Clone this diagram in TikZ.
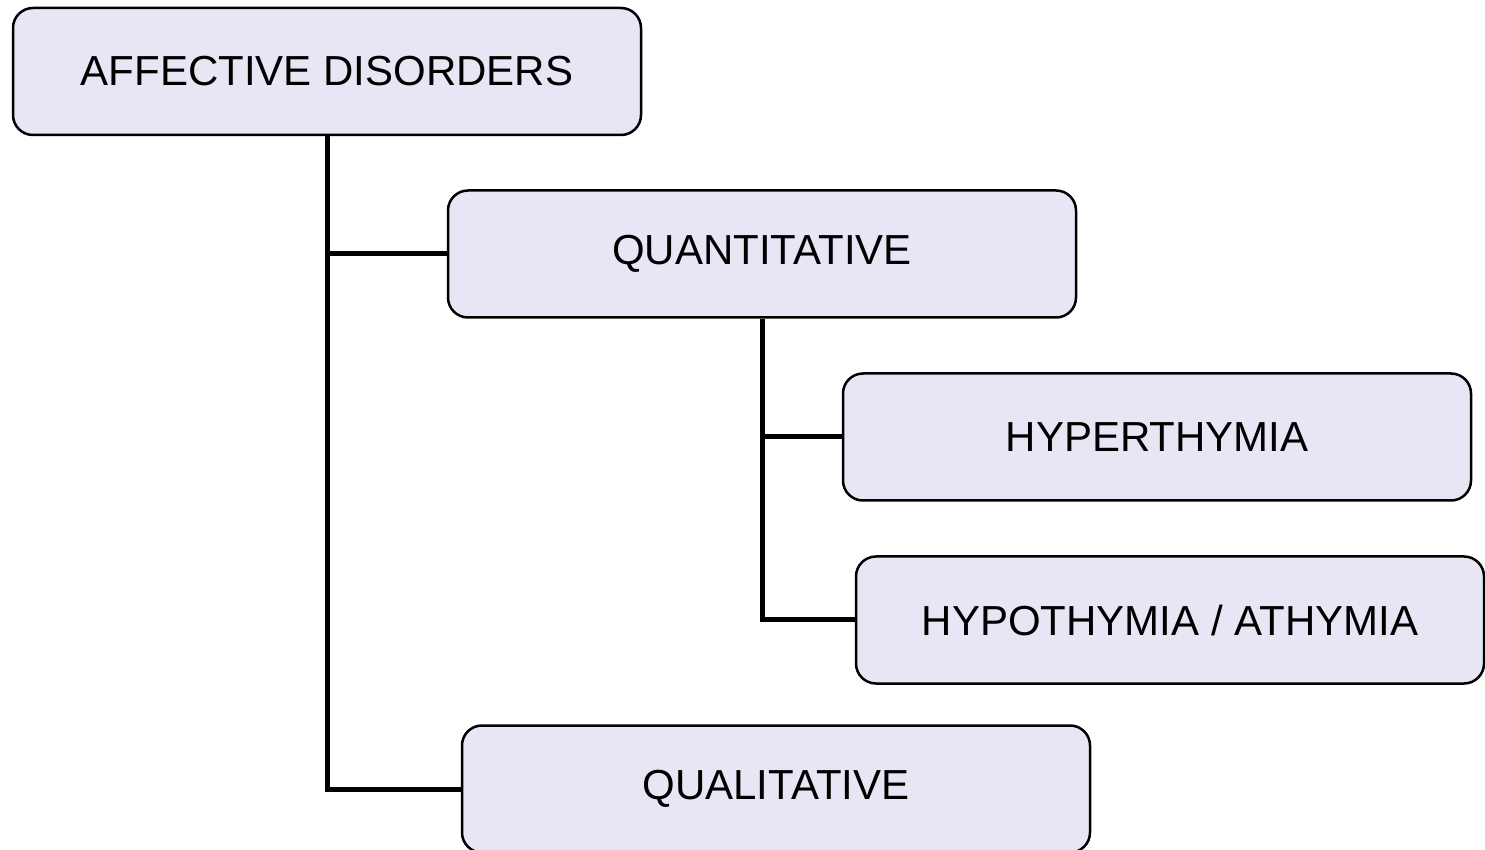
\documentclass[tikz,border=0pt]{standalone}
\usepackage{fontspec}
\setmainfont{Liberation Sans}
\usepackage{tikz}
\usetikzlibrary{positioning}
\definecolor{LilaCaja}{RGB}{230,230,245}

\begin{document}
\begin{tikzpicture}[x=1pt,y=1pt,
  caja/.style={draw,line width=2.5pt,fill=LilaCaja,rounded corners=20pt,
    minimum width=628pt,minimum height=127pt,inner sep=0pt,
    font=\fontsize{42}{50}\selectfont},
  rama/.style={line width=5pt}]
  \useasboundingbox (0,0) rectangle (1485,849);

  % cajas
  \node[caja] (afect)  at (327,777.5) {AFFECTIVE DISORDERS};
  \node[caja] (cuanti) at (762,595)   {QUANTITATIVE};
  \node[caja] (hiper)  at (1157,412)  {HYPERTHYMIA};
  \node[caja] (hipo)   at (1170,229)  {HYPOTHYMIA / ATHYMIA};
  \node[caja] (cuali)  at (776,60)    {QUALITATIVE};

  % ramas del arbol
  \draw[rama] (afect.south) |- (cuali.west);
  \draw[rama] (afect.south |- cuanti.west) -- (cuanti.west);
  \draw[rama] (cuanti.south) |- (hipo.west);
  \draw[rama] (cuanti.south |- hiper.west) -- (hiper.west);
\end{tikzpicture}
\end{document}
